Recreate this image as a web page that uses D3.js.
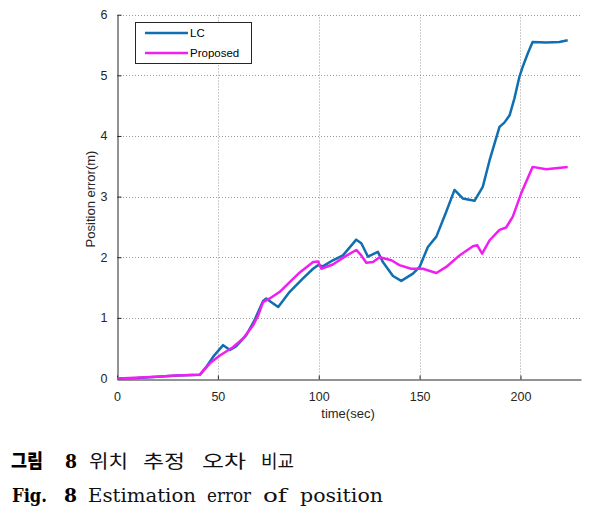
<!DOCTYPE html>
<html>
<head>
<meta charset="utf-8">
<title>position error</title>
<script src="https://cdn.jsdelivr.net/npm/d3@7"></script>
<style>
body { margin: 0; background: #fff; }
svg text { font-family: "Liberation Sans", Arial, sans-serif; }
</style>
</head>
<body>
<svg id="chart" width="600" height="517"></svg>
<script>
// values
var xTicks = [0, 50, 100, 150, 200];
var yTicks = [0, 1, 2, 3, 4, 5, 6];

var lcTime  = [0, 10, 20, 30, 41, 44, 47.7, 52.6, 56, 59, 64, 68, 72.4, 74, 76, 79.9, 85.6, 92.2, 97.2, 99.7, 102, 107, 112, 118.6, 121.1, 124.4, 129.3, 131.8, 136.8, 140.9, 146.7, 150, 154.1, 158.3, 163.2, 167.3, 171.4, 177.2, 181.3, 184.7, 189.6, 192, 194.6, 197, 199.5, 201.1, 203.6, 206, 212.7, 219.3, 223.4];
var lcError = [0, 0.01, 0.03, 0.05, 0.06, 0.18, 0.36, 0.55, 0.47, 0.53, 0.71, 0.95, 1.28, 1.32, 1.27, 1.18, 1.43, 1.65, 1.81, 1.87, 1.85, 1.95, 2.03, 2.29, 2.23, 2.01, 2.09, 1.92, 1.69, 1.61, 1.73, 1.84, 2.17, 2.34, 2.75, 3.11, 2.97, 2.93, 3.16, 3.60, 4.15, 4.22, 4.34, 4.62, 4.98, 5.14, 5.36, 5.55, 5.54, 5.55, 5.58];

var propTime  = [0, 6, 19.6, 29.5, 41, 46, 51, 57.6, 62.5, 67.5, 70, 72.4, 75.7, 80.7, 85.6, 90.6, 97.2, 99.7, 101.3, 107, 112.9, 118.6, 121.1, 123.6, 126.9, 130.2, 136, 140, 145.8, 151.6, 158.3, 163.2, 169.8, 176.4, 178.5, 181, 184.7, 189.6, 192.9, 196.2, 200.3, 206, 212.7, 223.4];
var propError = [0, 0.01, 0.03, 0.05, 0.06, 0.25, 0.38, 0.52, 0.66, 0.88, 1.04, 1.26, 1.32, 1.43, 1.59, 1.75, 1.92, 1.93, 1.81, 1.88, 2.01, 2.12, 2.03, 1.91, 1.92, 2.0, 1.95, 1.87, 1.81, 1.81, 1.74, 1.84, 2.03, 2.18, 2.2, 2.06, 2.28, 2.45, 2.49, 2.67, 3.05, 3.49, 3.45, 3.49];

var seriesNames = ["LC", "Proposed"];
var seriesColors = ["#0f6fb0", "#f01ef0"];

// caption words: [text, x, width, bold, korean]
var caption1 = [["그림", 11, 32, true, true], ["8", 65, 12, true, false], ["위치", 89, 39, false, true],
                ["추정", 143, 42, false, true], ["오차", 202, 44, false, true], ["비교", 261, 33, false, true]];
var caption2 = [["Fig.", 12, 35, true, false], ["8", 64, 13, true, false], ["Estimation", 88, 108, false, false],
                ["error", 207, 44, false, false], ["of", 263, 24, false, false], ["position", 300, 83, false, false]];

var svg = d3.select("#chart");

var x = d3.scaleLinear().domain([0, 230]).range([117, 581]);
var y = d3.scaleLinear().domain([0, 6]).range([378.5, 14.7]);

// grid
var grid = svg.append("g").attr("stroke", "#9a9a9a").attr("stroke-width", 1)
  .attr("stroke-dasharray", "1,2");
grid.selectAll("line.v").data(xTicks.slice(1)).enter().append("line")
  .attr("x1", function(d) { return Math.round(x(d)) + 0.5; })
  .attr("x2", function(d) { return Math.round(x(d)) + 0.5; })
  .attr("y1", y(0)).attr("y2", y(6));
grid.selectAll("line.h").data(yTicks.slice(1)).enter().append("line")
  .attr("x1", x(0)).attr("x2", x(230))
  .attr("y1", function(d) { return Math.round(y(d)) + 0.5; })
  .attr("y2", function(d) { return Math.round(y(d)) + 0.5; });

// axes
var xAxis = d3.axisBottom(x).tickValues(xTicks).tickSizeInner(-4).tickSizeOuter(0).tickPadding(13)
  .tickFormat(d3.format("d"));
var yAxis = d3.axisLeft(y).tickValues(yTicks).tickSizeInner(-4).tickSizeOuter(0).tickPadding(10)
  .tickFormat(d3.format("d"));

var gx = svg.append("g").attr("transform", "translate(0," + (Math.round(y(0)) + 0.5) + ")").call(xAxis);
var gy = svg.append("g").attr("transform", "translate(" + (Math.round(x(0)) + 0.5) + ",0)").call(yAxis);
[gx, gy].forEach(function(g) {
  g.select(".domain").attr("stroke", "#262626");
  g.selectAll(".tick line").attr("stroke", "#262626");
  g.selectAll(".tick text").attr("fill", "#262626").style("font-size", "12.5px");
});

// lines
var line = d3.line()
  .x(function(d) { return x(d[0]); })
  .y(function(d) { return y(d[1]); });

svg.append("path")
  .datum(d3.zip(lcTime, lcError))
  .attr("fill", "none").attr("stroke", seriesColors[0]).attr("stroke-width", 2.5)
  .attr("stroke-linejoin", "round")
  .attr("d", line);

svg.append("path")
  .datum(d3.zip(propTime, propError))
  .attr("fill", "none").attr("stroke", seriesColors[1]).attr("stroke-width", 2.5)
  .attr("stroke-linejoin", "round")
  .attr("d", line);

// axis labels
svg.append("text").attr("x", 348).attr("y", 418).attr("text-anchor", "middle")
  .attr("fill", "#262626").style("font-size", "13px").text("time(sec)");
svg.append("g").attr("transform", "translate(95 199) rotate(-90)")
  .append("text").attr("text-anchor", "middle").attr("fill", "#262626")
  .style("font-size", "13px").text("Position error(m)");

// legend
var legend = svg.append("g");
legend.append("rect").attr("x", 135.5).attr("y", 22.5).attr("width", 116).attr("height", 41)
  .attr("fill", "#fff").attr("stroke", "#262626").attr("stroke-width", 1);
legend.selectAll("line").data(seriesNames).enter().append("line")
  .attr("x1", 145).attr("x2", 188)
  .attr("y1", function(d, i) { return 33 + i * 20; })
  .attr("y2", function(d, i) { return 33 + i * 20; })
  .attr("stroke", function(d, i) { return seriesColors[i]; })
  .attr("stroke-width", 2.5);
legend.selectAll("text").data(seriesNames).enter().append("text")
  .attr("x", 190)
  .attr("y", function(d, i) { return 37 + i * 20; })
  .attr("fill", "#000").style("font-size", "11.5px")
  .text(function(d) { return d; });

// caption
function captionLine(words, baseline, latinSize) {
  svg.append("g").selectAll("text").data(words).enter().append("text")
    .attr("x", function(d) { return d[1]; }).attr("y", baseline)
    .attr("fill", function(d) { return d[3] ? "#000" : "#111"; })
    .attr("textLength", function(d) { return d[2]; })
    .attr("lengthAdjust", "spacingAndGlyphs")
    .style("font-family", function(d) { return d[4] ? "'Noto Sans CJK KR', sans-serif" : "'DejaVu Serif', serif"; })
    .style("font-weight", function(d) { return d[3] ? "900" : "normal"; })
    .style("font-size", function(d) { return d[4] ? (d[3] ? "19px" : "18px") : latinSize; })
    .text(function(d) { return d[0]; });
}
captionLine(caption1, 468, "18px");
captionLine(caption2, 502, "19px");
</script>
</body>
</html>
